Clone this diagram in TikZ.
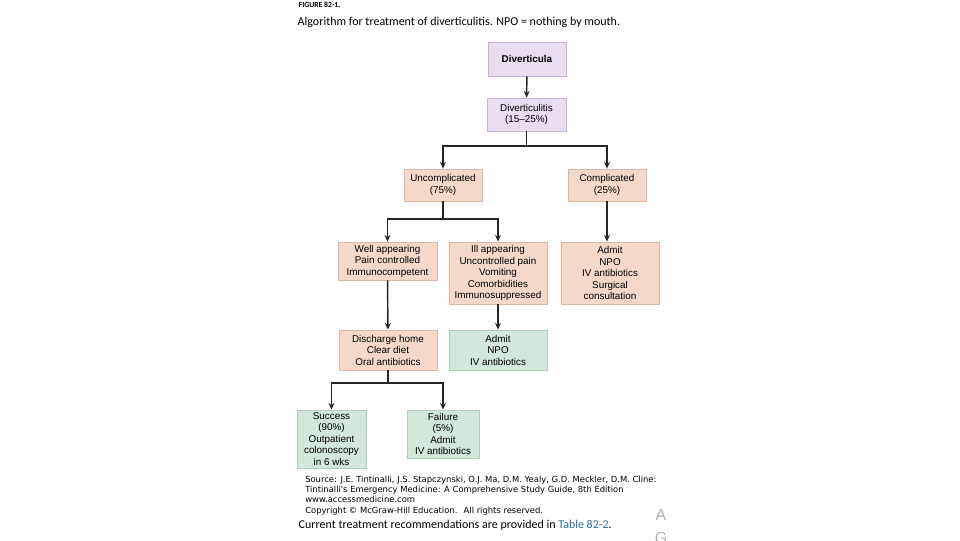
\documentclass[tikz,border=0pt]{standalone}
\usepackage{fontspec}
\setmainfont{Liberation Sans}
\newfontfamily\capfont{Carlito}
\newfontfamily\srcfont{DejaVu Sans}
\usetikzlibrary{arrows.meta}
\definecolor{lavfill}{HTML}{E9DDF0}
\definecolor{lavline}{HTML}{C6B6D4}
\definecolor{peachfill}{HTML}{F6D8C8}
\definecolor{peachline}{HTML}{DDB7A4}
\definecolor{greenfill}{HTML}{D3E7DA}
\definecolor{greenline}{HTML}{B3CEBC}
\definecolor{linkblue}{HTML}{2A6EA6}
\begin{document}
\begin{tikzpicture}[x=0.75pt,y=-0.75pt,
    box/.style 2 args={draw,line width=0.6pt,align=center,inner sep=0pt,
      minimum width=#1*0.75pt,minimum height=#2*0.75pt,
      font=\fontsize{7.4}{8.6}\selectfont},
    lav/.style={fill=lavfill,draw=lavline},
    peach/.style={fill=peachfill,draw=peachline},
    green/.style={fill=greenfill,draw=greenline},
    arr/.style={draw=black!85,line width=1.1pt,-{Stealth[length=5pt,width=4.4pt]}},
    link/.style={draw=black!85,line width=1.1pt}]
  \useasboundingbox (0,0) rectangle (960,540);
  % caption
  \node[anchor=west,font=\capfont\bfseries\fontsize{5.8}{6}\selectfont] (fig) at (294,5) {FIGURE 82-1.};
  \node[anchor=west,font=\capfont\fontsize{9}{10}\selectfont] (cap) at (293,22)
    {Algorithm for treatment of diverticulitis. NPO = nothing by mouth.};
  % boxes
  \node[box={78}{34},lav] (dcula) at (527,59) {\textbf{Diverticula}};
  \node[box={79}{33},lav] (dcitis) at (526.5,114.5) {Diverticulitis\\(15--25\%)};
  \node[box={78}{32},peach] (uncomp) at (443,185) {Uncomplicated\\(75\%)};
  \node[box={78}{32},peach] (comp) at (607,185) {Complicated\\(25\%)};
  \node[box={99}{38},peach] (well) at (387.5,261) {Well appearing\\Pain controlled\\Immunocompetent};
  \node[box={98}{62},peach] (ill) at (498,273) {Ill appearing\\Uncontrolled pain\\Vomiting\\Comorbidities\\Immunosuppressed};
  \node[box={98}{62},peach] (cadmit) at (610,273) {Admit\\NPO\\IV antibiotics\\Surgical\\consultation};
  \node[box={98}{40},peach] (home) at (388,350) {Discharge home\\Clear diet\\Oral antibiotics};
  \node[box={98}{40},green] (admit) at (498,350) {Admit\\NPO\\IV antibiotics};
  \node[box={69}{58},green] (succ) at (331.5,439) {Success\\(90\%)\\Outpatient\\colonoscopy\\in 6 wks};
  \node[box={72}{48},green] (fail) at (443,434) {Failure\\(5\%)\\Admit\\IV antibiotics};
  % branch points
  \coordinate (b1) at (526.5,146);
  \coordinate (b2) at (443,219);
  \coordinate (b3) at (388,383);
  % connectors
  \draw[arr] (dcula) -- (dcitis);
  \draw[link] (dcitis) -- (b1);
  \draw[arr] (b1) -| (uncomp);
  \draw[arr] (b1) -| (comp);
  \draw[link] (uncomp) -- (b2);
  \draw[arr] (b2) -| (well);
  \draw[arr] (b2) -| (ill);
  \draw[arr] (comp.south) -- (comp.south |- cadmit.north);
  \draw[arr] (well) -- (home);
  \draw[arr] (ill) -- (admit);
  \draw[link] (home) -- (b3);
  \draw[arr] (b3) -| (succ);
  \draw[arr] (b3) -| (fail);
  % source
  \node[anchor=north west,align=left,inner sep=0pt,
    font=\srcfont\fontsize{6.3}{7.6}\selectfont] (src) at (305,476)
    {Source: J.E. Tintinalli, J.S. Stapczynski, O.J. Ma, D.M. Yealy, G.D. Meckler, D.M. Cline:\\
     Tintinalli's Emergency Medicine: A Comprehensive Study Guide, 8th Edition\\
     www.accessmedicine.com\\
     Copyright \textcopyright{} McGraw-Hill Education.~ All rights reserved.};
  \node[anchor=west,font=\capfont\fontsize{9}{10}\selectfont] (rec) at (294,525)
    {Current treatment recommendations are provided in \textcolor{linkblue}{Table 82-2}.};
  \node[font=\fontsize{12}{12}\selectfont,text=black!30] (ga) at (661,515) {A};
  \node[font=\fontsize{12}{12}\selectfont,text=black!30] (gg) at (661,538) {G};
\end{tikzpicture}
\end{document}
